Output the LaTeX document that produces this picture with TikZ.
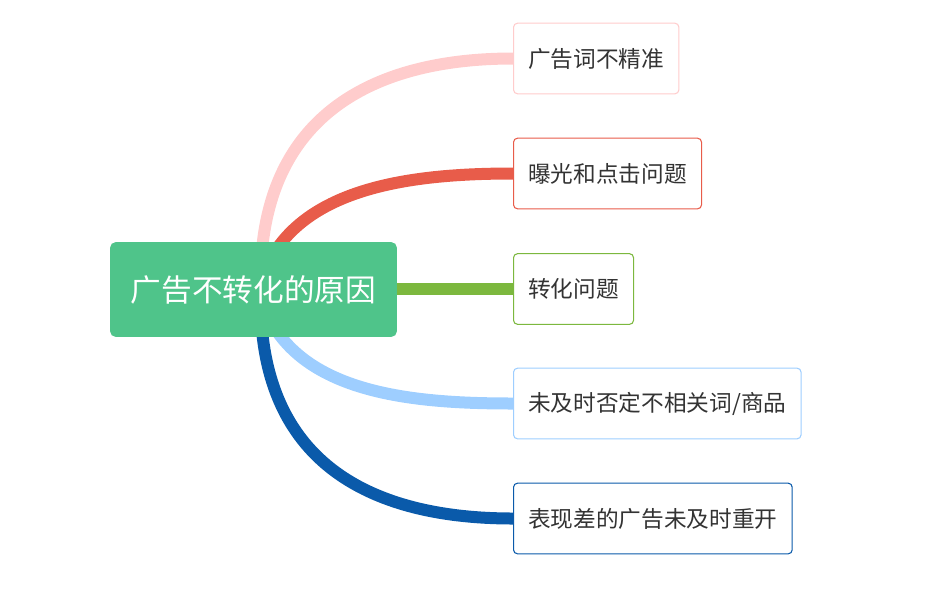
\documentclass[tikz,border=0pt]{standalone}
\usepackage{fontspec}
\setmainfont{Noto Sans CJK SC}
\begin{document}
\begin{tikzpicture}[x=0.75pt,y=-0.75pt]
\definecolor{rootg}{HTML}{4FC48A}
\definecolor{c1}{HTML}{FFCCCC}
\definecolor{c2}{HTML}{E85C4A}
\definecolor{c3}{HTML}{7CB83E}
\definecolor{c4}{HTML}{9ECEFF}
\definecolor{c5}{HTML}{0A5AAA}
\definecolor{txt}{HTML}{333333}
\tikzset{leaf/.style={draw=#1,fill=white,rounded corners=3pt,line width=0.8pt,minimum height=53pt,anchor=west,inner xsep=11pt,text=txt,font=\fontsize{17}{19}\selectfont},
branch/.style={line width=9pt,draw=#1}}
\useasboundingbox (0,0) rectangle (936,612);
\coordinate (s1) at (262,250);
\coordinate (s2) at (276,250);
\coordinate (s3) at (390,289);
\coordinate (s4) at (276,330);
\coordinate (s5) at (262,330);
\node[leaf=c1] (n1) at (513,58.5) {广告词不精准};
\node[leaf=c2] (n2) at (513,173.5) {曝光和点击问题};
\node[leaf=c3] (n3) at (513,289) {转化问题};
\node[leaf=c4] (n4) at (513,403.5) {未及时否定不相关词/商品};
\node[leaf=c5] (n5) at (513,518.5) {表现差的广告未及时重开};
\draw[branch=c1] (s1) .. controls (275,110) and (380,58.5) .. (n1.west);
\draw[branch=c2] (s2) .. controls (320,185) and (420,173.5) .. (n2.west);
\draw[branch=c3] (s3) -- (n3.west);
\draw[branch=c4] (s4) .. controls (320,395) and (420,403.5) .. (n4.west);
\draw[branch=c5] (s5) .. controls (275,470) and (380,518.5) .. (n5.west);
\node[fill=rootg,rounded corners=4pt,minimum width=215pt,minimum height=71pt,text=white,font=\fontsize{23}{25}\selectfont] (root) at (253.5,289.5) {广告不转化的原因};
\end{tikzpicture}
\end{document}
